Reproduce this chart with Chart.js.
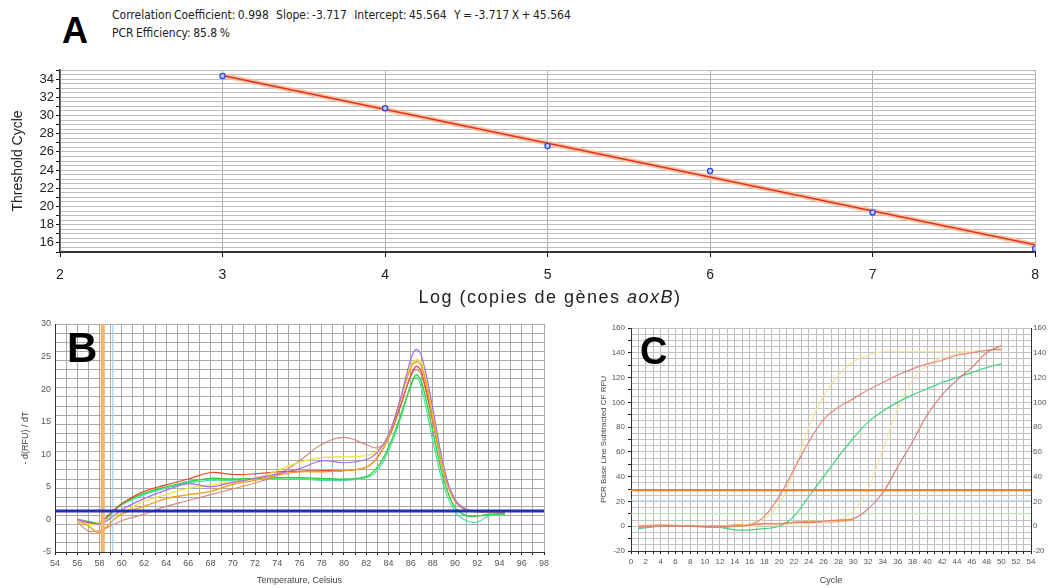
<!DOCTYPE html>
<html lang="en">
<head>
<meta charset="utf-8">
<title>qPCR aoxB</title>
<script src="https://cdn.jsdelivr.net/npm/chart.js@4.4.1/dist/chart.umd.min.js"></script>
<style>
  body { margin: 0; background: #fff; }
  #fig { position: relative; width: 1049px; height: 588px; overflow: hidden; font-family: "Liberation Sans", Arial, sans-serif; }
  .box { position: absolute; }
  .letter { position: absolute; font-weight: bold; color: #000; line-height: 1; }
  .info { position: absolute; left: 112px; font-family: "DejaVu Sans Condensed", "DejaVu Sans", sans-serif; font-size: 12px; word-spacing: -1px; color: #222; white-space: pre; line-height: 14px; }
  .xtitle { position: absolute; white-space: nowrap; color: #222; }
</style>
</head>
<body>
<div id="fig">
  <div class="box" style="left:0;top:60px;width:1049px;height:250px"><canvas id="chartA"></canvas></div>
  <div class="box" style="left:0;top:312px;width:565px;height:276px"><canvas id="chartB"></canvas></div>
  <div class="box" style="left:570px;top:312px;width:479px;height:276px"><canvas id="chartC"></canvas></div>

  <div class="letter" style="left:62px;top:13px;font-size:36px">A</div>
  <div class="info" style="top:8px">Correlation Coefficient: 0.998   Slope: -3.717   Intercept: 45.564   Y = -3.717 X + 45.564</div>
  <div class="info" style="top:26px">PCR Efficiency: 85.8 %</div>
  <div class="xtitle" style="left:550px;top:287px;transform:translateX(-50%);font-size:18px;letter-spacing:1.5px">Log (copies de gènes <i>aoxB</i>)</div>

  <div class="letter" style="left:67px;top:327px;font-size:42px">B</div>
  <div class="letter" style="left:640px;top:332px;font-size:38px">C</div>
</div>
<script>
// ---- panel A : standard curve ----
var logCopies = [3, 4, 5, 6, 7, 8];
var ctValues = [34.35, 30.8, 26.65, 23.9, 19.35, 15.35];
var fitX = [3, 8];
var fitY = [34.4, 15.8];
var ctTicks = [16, 18, 20, 22, 24, 26, 28, 30, 32, 34];

// ---- panel B : melt curves ----
var tempB = [56, 57, 58, 59, 60, 62, 64, 66, 68, 70, 72, 74, 76, 78, 80, 82, 83, 84, 85, 86, 86.5, 87, 88, 89, 90, 91, 92, 93, 94.5];
var meltRed = [0, -0.5, -0.6, 1.0, 2.4, 4.3, 5.3, 6.2, 7.2, 6.9, 7.0, 7.3, 7.4, 7.5, 7.5, 8.0, 9.5, 12.5, 17.0, 22.0, 23.5, 22.5, 15.0, 7.5, 2.8, 1.5, 1.2, 1.1, 1.1];
var meltOrange = [0, -1.0, -2.0, -0.5, 0.8, 2.0, 3.2, 3.8, 4.3, 5.4, 6.0, 6.8, 7.3, 7.3, 7.5, 8.0, 9.5, 12.5, 18.0, 23.2, 24.2, 23.5, 15.5, 7.0, 2.8, 1.4, 1.2, 1.2, 1.2];
var meltYellow = [-0.3, -0.8, -0.5, 0.3, 1.0, 2.8, 3.8, 4.8, 5.3, 5.8, 6.3, 7.5, 8.8, 9.5, 9.6, 9.8, 10.5, 12.8, 18.0, 23.5, 24.5, 24.0, 16.0, 7.5, 3.0, 1.5, 1.2, 1.2, 1.2];
var meltGreen = [0, -0.3, -0.5, 0.8, 2.4, 4.0, 5.0, 5.8, 6.3, 6.2, 6.3, 6.4, 6.4, 6.3, 6.2, 6.6, 8.0, 11.0, 15.5, 20.5, 22.2, 21.0, 13.5, 6.0, 1.8, 0.6, 0.5, 0.8, 0.9];
var meltCyan = [0, -0.4, -0.5, 0.8, 2.2, 3.8, 4.8, 5.6, 6.0, 6.0, 6.2, 6.2, 6.2, 6.0, 6.0, 6.4, 7.5, 10.5, 15.0, 20.5, 21.8, 20.0, 12.0, 5.0, 1.2, -0.2, -0.4, 0.5, 0.8];
var meltPurple = [0, -0.4, -0.7, 0.2, 1.5, 3.2, 4.5, 5.5, 5.0, 5.7, 6.3, 7.0, 7.8, 9.0, 8.7, 9.2, 10.3, 13.0, 18.0, 24.5, 26.1, 25.0, 17.0, 8.0, 3.0, 1.5, 1.2, 1.2, 1.2];
var meltSalmon = [-0.3, -1.8, -1.7, -1.0, -0.2, 0.8, 2.0, 2.9, 3.8, 4.7, 5.6, 6.8, 9.0, 11.5, 12.6, 11.5, 11.0, 12.5, 17.0, 22.0, 23.0, 22.0, 15.0, 7.0, 3.0, 1.6, 1.3, 1.2, 1.2];
var meltThreshold = 1.3;
var meltBeginMarker = 58.3;
var meltEndMarker = 59.2;

// ---- panel C : amplification curves ----
var cycleC = [1, 4, 8, 12, 14, 16, 18, 20, 22, 24, 26, 28, 30, 32, 34, 36, 38, 40, 42, 44, 46, 48, 50];
var ampPinkEarly = [-1, 0, 0, -1, 0, 1, 8, 24, 46, 68, 86, 96, 103, 110, 116, 122, 127, 131, 134, 138, 140, 142, 143];
var ampGreen = [-2, 0, 0, -1, -3, -3, -2, 0, 8, 24, 40, 56, 71, 84, 93, 100, 106, 111, 116, 120, 124, 128, 131];
var ampLate = [0, 0, 0, 0, 0, 1, 2, 2, 3, 3, 4, 5, 6, 14, 27, 48, 68, 90, 106, 118, 128, 140, 146];
var ampYellowEarly = [0, 0, 1, 0, 0, 2, 6, 18, 45, 80, 105, 122, 133, 138, 141, 141, 141, 141, 141, 141, 141, 142, 142];
var ampYellowLate = [0, 0, 0, 0, 0, 0, 1, 1, 2, 2, 3, 5, 12, 30, 62, 95, 118, 130, 136, 139, 141, 142, 142];
var ampOrange = [0, 1, 0, 0, 1, 1, 2, 2, 3, 4, 3, 4, 5, null, null, null, null, null, null, null, null, null, null];
var ampThreshold = 29;
var ampThreshold2 = 21;
var ampThreshold3 = 10;

Chart.defaults.font.family = '"Liberation Sans", Arial, sans-serif';

function pts(xs, ys) {
	return xs.map(function (x, i) { return { x: x, y: ys[i] }; });
}
function hline(x0, x1, y) {
	return [{ x: x0, y: y }, { x: x1, y: y }];
}
function curve(xs, ys, color, w) {
	return { data: pts(xs, ys), borderColor: color, borderWidth: w || 1.2, pointRadius: 0, tension: 0.4, spanGaps: false };
}
var base = {
	responsive: true,
	maintainAspectRatio: false,
	animation: false,
	plugins: { legend: { display: false }, tooltip: { enabled: false } }
};
function opts(o) {
	return Object.assign({}, base, o);
}

// panel A
new Chart(document.getElementById('chartA'), {
	type: 'line',
	data: {
		datasets: [{
			data: pts(logCopies, ctValues),
			showLine: false,
			pointRadius: 2.6,
			pointBorderWidth: 1.3,
			pointBorderColor: '#2a46e6',
			pointBackgroundColor: '#c4ccff'
		}, {
			data: pts(fitX, fitY),
			borderColor: '#e0301c',
			borderWidth: 1.6,
			pointRadius: 0
		}, {
			data: pts(fitX, fitY),
			borderColor: 'rgba(250,185,145,0.8)',
			borderWidth: 5,
			pointRadius: 0
		}]
	},
	options: opts({
		layout: { padding: { top: 10, right: 12, left: 0, bottom: 0 } },
		scales: {
			x: {
				type: 'linear', min: 2, max: 8,
				ticks: { stepSize: 1, padding: 10, color: '#222', font: { size: 14 } },
				grid: { color: '#b0b0b0', tickColor: '#111', tickLength: 5 },
				border: { color: '#333', width: 2 },
				afterFit: function (s) { s.height = 58; }
			},
			y: {
				min: 15, max: 35,
				ticks: {
					stepSize: 0.5, autoSkip: false, padding: 2, color: '#222', font: { size: 13 },
					callback: function (v) { return ctTicks.indexOf(v) >= 0 ? v : ''; }
				},
				grid: {
					color: '#bcbcbc', tickLength: 4,
					tickColor: function (c) { return Number.isInteger(c.tick.value) ? '#111' : 'rgba(0,0,0,0)'; }
				},
				border: { color: '#333', width: 1.5 },
				title: { display: true, text: 'Threshold Cycle', color: '#222', font: { size: 14 }, padding: { top: 10, bottom: 0 } },
				afterFit: function (s) { s.width = 60; }
			}
		}
	})
});

// panel B
new Chart(document.getElementById('chartB'), {
	type: 'line',
	data: {
		datasets: [
			{ data: hline(54, 98, meltThreshold), borderColor: '#1f2fbf', borderWidth: 3, pointRadius: 0 },
			{ data: [{ x: meltBeginMarker, y: -5 }, { x: meltBeginMarker, y: 30 }], borderColor: '#f2b56a', borderWidth: 4, pointRadius: 0 },
			{ data: [{ x: meltEndMarker, y: -5 }, { x: meltEndMarker, y: 30 }], borderColor: '#a9cdf0', borderWidth: 1.2, pointRadius: 0 },
			curve(tempB, meltPurple, '#a36ef0'),
			curve(tempB, meltOrange, '#f5a020', 1.4),
			curve(tempB, meltYellow, '#f2e04a', 1.4),
			curve(tempB, meltRed, '#e64a2a'),
			curve(tempB, meltSalmon, '#d48a7c'),
			curve(tempB, meltGreen, '#2ed23a', 1.4),
			curve(tempB, meltCyan, '#46e0a4')
		]
	},
	options: opts({
		layout: { padding: { top: 12, right: 21, left: 0, bottom: 0 } },
		scales: {
			x: {
				type: 'linear', min: 54, max: 98,
				ticks: {
					stepSize: 1, autoSkip: false, maxRotation: 0, padding: 3, color: '#555', font: { size: 9 },
					callback: function (v) { return v % 2 === 0 ? v : ''; }
				},
				grid: { color: '#a9a9a9', tickColor: '#222', tickLength: 3 },
				border: { color: '#333' },
				title: { display: true, text: 'Temperature, Celsius', color: '#444', font: { size: 9 }, padding: { top: 0, bottom: 2 } },
				afterFit: function (s) { s.height = 36; }
			},
			y: {
				min: -5, max: 30,
				ticks: { stepSize: 5, padding: 4, color: '#555', font: { size: 9 } },
				grid: { display: false, drawTicks: false, tickLength: 0 },
				border: { color: '#333' },
				title: { display: true, text: '- d(RFU) / dT', color: '#444', font: { size: 9 }, padding: { top: 20, bottom: 0 } },
				afterFit: function (s) { s.width = 55; }
			},
			yg: {
				position: 'left', min: -5, max: 30,
				ticks: { stepSize: 1.4, autoSkip: false, display: false },
				grid: { color: '#a9a9a9', tickColor: '#222', tickLength: 3 },
				border: { display: false },
				afterFit: function (s) { s.width = 0; }
			}
		}
	})
});

// panel C
new Chart(document.getElementById('chartC'), {
	type: 'line',
	data: {
		datasets: [
			{ data: hline(0, 54, ampThreshold), borderColor: '#f07a22', borderWidth: 2, pointRadius: 0 },
			curve(cycleC, ampLate, '#e07a7a'),
			curve(cycleC, ampPinkEarly, '#e6867e'),
			curve(cycleC, ampGreen, '#3ed47c'),
			curve(cycleC, ampYellowEarly, '#f6e49a'),
			curve(cycleC, ampYellowLate, '#f7e6a6'),
			curve(cycleC, ampOrange, '#f0a848', 1.6),
			{ data: hline(0, 54, ampThreshold2), borderColor: '#bcdaf2', borderWidth: 1, pointRadius: 0 },
			{ data: hline(0, 54, ampThreshold3), borderColor: '#c8ecc8', borderWidth: 1, pointRadius: 0 }
		]
	},
	options: opts({
		layout: { padding: { top: 16, right: 0, left: 0, bottom: 0 } },
		scales: {
			x: {
				type: 'linear', min: 0, max: 54,
				ticks: {
					stepSize: 1, autoSkip: false, maxRotation: 0, padding: 3, color: '#555', font: { size: 8 },
					callback: function (v) { return v % 2 === 0 ? v : ''; }
				},
				grid: { color: '#bdbdbd', tickColor: '#222', tickLength: 3 },
				border: { color: '#333' },
				title: { display: true, text: 'Cycle', color: '#444', font: { size: 9 }, padding: { top: 0, bottom: 2 } },
				afterFit: function (s) { s.height = 37; }
			},
			y: {
				min: -20, max: 160,
				ticks: {
					stepSize: 5, autoSkip: false, padding: 3, color: '#555', font: { size: 8 },
					callback: function (v) { return v % 20 === 0 ? v : ''; }
				},
				grid: {
					color: '#c4c4c4', tickLength: 3,
					tickColor: function (c) { return c.tick.value % 10 === 0 ? '#222' : 'rgba(0,0,0,0)'; }
				},
				border: { color: '#333' },
				title: { display: true, text: 'PCR Base Line Subtracted CF RFU', color: '#444', font: { size: 8 }, padding: { top: 29, bottom: 0 } },
				afterFit: function (s) { s.width = 61; }
			},
			y2: {
				position: 'right', min: -20, max: 160,
				ticks: { stepSize: 20, padding: 2, color: '#555', font: { size: 8 } },
				grid: { display: false, drawTicks: false, tickLength: 0 },
				border: { color: '#333' },
				afterFit: function (s) { s.width = 18; }
			}
		}
	})
});
</script>
</body>
</html>
